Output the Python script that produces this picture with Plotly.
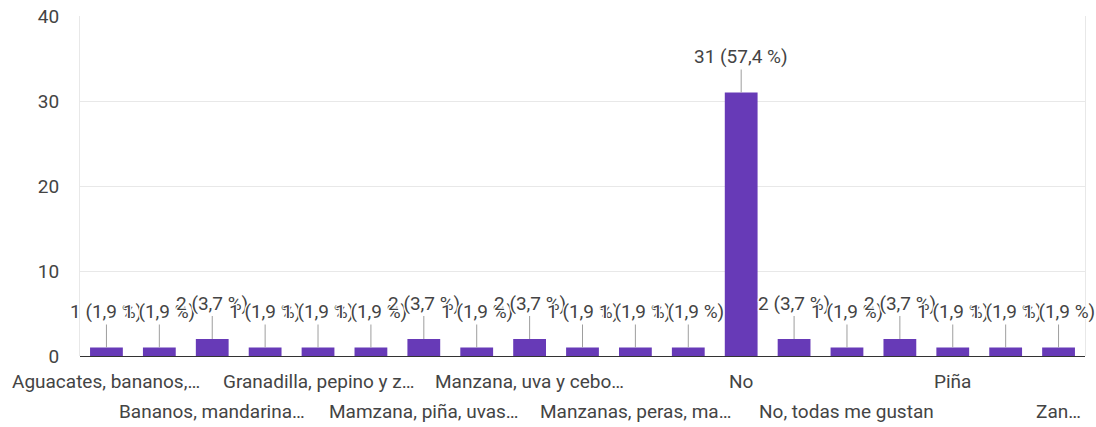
import plotly.graph_objects as go

# ---- data ----
values = [1, 1, 2, 1, 1, 1, 2, 1, 2, 1, 1, 1, 31, 2, 1, 2, 1, 1, 1]
total = 54
# tick labels shown (every other category, alternating rows)
tick_labels = [
    "Aguacates, bananos,…", "Bananos, mandarina…", "Granadilla, pepino y z…",
    "Mamzana, piña, uvas…", "Manzana, uva y cebo…", "Manzanas, peras, ma…",
    "No", "No, todas me gustan", "Piña", "Zan…",
]
tick_positions = list(range(0, len(values), 2))
y_ticks = [0, 10, 20, 30, 40]

FONT = "Roboto, Arial, sans-serif"
TXT = "#444444"
PURPLE = "#673ab7"

x = list(range(len(values)))

fig = go.Figure(go.Bar(x=x, y=values, marker=dict(color=PURPLE, line=dict(width=0)),
                       hoverinfo="skip"))

halo = ("1px 1px 0 #fff, -1px -1px 0 #fff, 1px -1px 0 #fff, -1px 1px 0 #fff, "
        "0 1px 0 #fff, 0 -1px 0 #fff, 1px 0 0 #fff, -1px 0 0 #fff")

annotations = []
for i, v in enumerate(values):
    pct = f"{v / total * 100:.1f}".replace(".", ",")
    annotations.append(dict(
        x=i, y=v, xref="x", yref="y", text=f"{v} ({pct} %)",
        showarrow=True, arrowhead=0, arrowwidth=1, arrowcolor="#9e9e9e",
        ax=0, ay=-36, standoff=0,
        font=dict(family=FONT, size=19, color=TXT, shadow=halo),
    ))

for k, (pos, lab) in enumerate(zip(tick_positions, tick_labels)):
    annotations.append(dict(
        x=pos, y=0, xref="x", yref="paper", text=lab, showarrow=False,
        yanchor="middle", yshift=-25 if k % 2 == 0 else -55,
        font=dict(family=FONT, size=19, color=TXT),
    ))

fig.update_layout(
    width=1096, height=427,
    margin=dict(l=80, r=11, t=16, b=71, autoexpand=False),
    paper_bgcolor="white", plot_bgcolor="white",
    bargap=0.38, showlegend=False,
    annotations=annotations,
    font=dict(family=FONT, size=19, color=TXT),
)
fig.update_xaxes(range=[-0.5, len(values) - 0.5], showticklabels=False,
                 showgrid=False, zeroline=False, showline=False, ticks="")
fig.update_yaxes(range=[0, 40], tickvals=y_ticks, showgrid=True, gridcolor="#e8e8e8",
                 gridwidth=1, zeroline=True, zerolinecolor="#333333", zerolinewidth=1,
                 showline=True, linecolor="#e8e8e8", mirror=True, ticks="",
                 ticklabelstandoff=16, tickfont=dict(family=FONT, size=19, color=TXT))

fig.write_html("out.html")
